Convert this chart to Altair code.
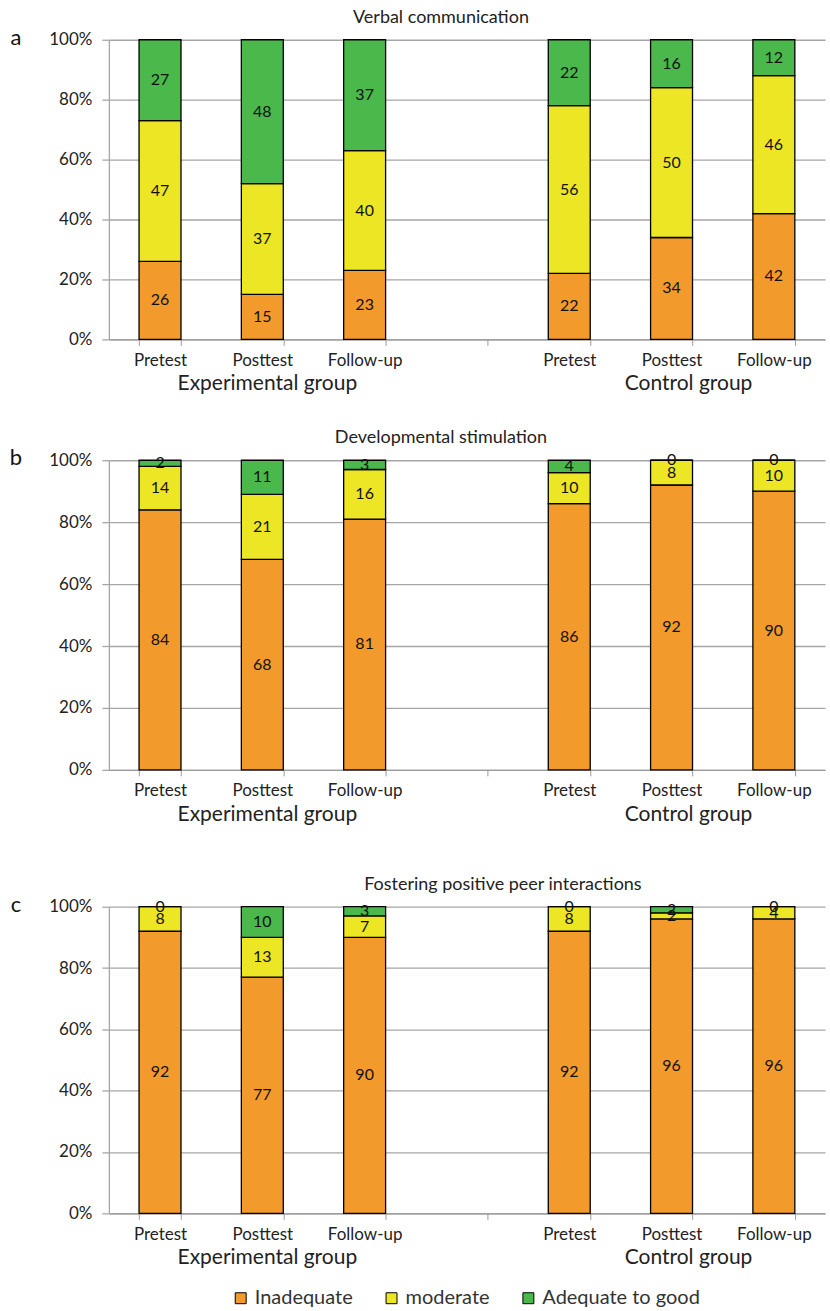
import altair as alt
import pandas as pd

FONT = "Lato"

times = ["Pretest", "Posttest", "Follow-up"]
groups = ["Experimental group", "Control group"]
levels = ["Inadequate", "moderate", "Adequate to good"]
colors = ["#F39A2C", "#ECE624", "#4AB84A"]

panel_titles = ["Verbal communication", "Developmental stimulation",
                "Fostering positive peer interactions"]
panel_letters = ["a", "b", "c"]

# bars: Exp Pretest, Exp Posttest, Exp Follow-up, Ctl Pretest, Ctl Posttest, Ctl Follow-up
inadequate = [
    [26, 15, 23, 22, 34, 42],
    [84, 68, 81, 86, 92, 90],
    [92, 77, 90, 92, 96, 96],
]
moderate = [
    [47, 37, 40, 56, 50, 46],
    [14, 21, 16, 10, 8, 10],
    [8, 13, 7, 8, 2, 4],
]
adequate = [
    [27, 48, 37, 22, 16, 12],
    [2, 11, 3, 4, 0, 0],
    [0, 10, 3, 0, 2, 0],
]

heights = [300, 310, 307]
gaps = [121, 137]
title_dx = [-26, -26, 36]
W = 717

bar_keys = [g + "|" + t for g in groups for t in times]
domain = bar_keys[:3] + ["gap|"] + bar_keys[3:]

x_scale = alt.Scale(domain=domain, paddingInner=0.59, paddingOuter=0.295)
y_scale = alt.Scale(domain=[0, 100])


def panel(i):
    rows = []
    series = [inadequate[i], moderate[i], adequate[i]]
    for j, key in enumerate(bar_keys):
        for r, lvl in enumerate(levels):
            rows.append({"key": key, "level": lvl, "rank": r, "value": series[r][j]})
    df = pd.DataFrame(rows)
    h = heights[i]

    bars = alt.Chart(df).mark_bar(stroke="black", strokeWidth=1.3).encode(
        x=alt.X("key:N", scale=x_scale, title=None,
                axis=alt.Axis(labelExpr="split(datum.value, '|')[1]", labelAngle=0,
                              tickBand="extent", tickSize=6, tickColor="#9a9a9a",
                              domainColor="#9a9a9a", domainWidth=1.3, labelFont=FONT,
                              labelFontSize=17, labelColor="#222", labelPadding=7,
                              grid=False)),
        y=alt.Y("value:Q", stack="zero", scale=y_scale, title=None,
                axis=alt.Axis(values=[0, 20, 40, 60, 80, 100], labelExpr="datum.value + '%'",
                              grid=True, gridColor="#a6a6a6", gridWidth=1.3,
                              tickColor="#a6a6a6", tickSize=7, tickWidth=1.3,
                              domainColor="#a6a6a6", domainWidth=1.3,
                              labelFont=FONT, labelFontSize=17, labelColor="#222",
                              labelPadding=10)),
        color=alt.Color("level:N", scale=alt.Scale(domain=levels, range=colors),
                        legend=alt.Legend(title=None, orient="none", direction="horizontal",
                                          legendX=122, legendY=1250, symbolType="square",
                                          symbolSize=120, symbolStrokeColor="black",
                                          symbolStrokeWidth=1, labelFont=FONT,
                                          labelFontSize=20, labelColor="#333",
                                          columnPadding=28, symbolOffset=0)),
        order=alt.Order("rank:Q", sort="ascending"),
    )

    labels = alt.Chart(df).transform_stack(
        stack="value", groupby=["key"], sort=[alt.SortField("rank", order="ascending")],
        as_=["lo", "hi"]
    ).transform_calculate(mid="(datum.lo + datum.hi) / 2").mark_text(
        font=FONT, fontSize=16, color="#111", baseline="middle"
    ).encode(
        x=alt.X("key:N", scale=x_scale, title=None),
        y=alt.Y("mid:Q", scale=y_scale, title=None),
        text="value:Q",
    )

    grp_layers = []
    for g, dx in zip(groups, [5, 17]):
        gdf = pd.DataFrame({"key": [g + "|Posttest"], "text": [g]})
        grp_layers.append(
            alt.Chart(gdf).mark_text(font=FONT, fontSize=21, color="#222", dx=dx,
                                     baseline="middle").encode(
                x=alt.X("key:N", scale=x_scale, title=None),
                y=alt.value(h + 45),
                text="text:N",
            )
        )

    letter = alt.Chart(pd.DataFrame({"t": [panel_letters[i]]})).mark_text(
        font=FONT, fontSize=22, color="#111", align="center", baseline="middle"
    ).encode(x=alt.value(-93), y=alt.value(-2), text="t:N")

    return alt.layer(bars, labels, *grp_layers, letter).properties(
        width=W, height=h,
        title=alt.TitleParams(panel_titles[i], dx=title_dx[i], offset=0, fontSize=18,
                              font=FONT, fontWeight="normal", color="#222",
                              anchor="middle"),
    )


def spacer(h):
    return alt.Chart(pd.DataFrame({"s": [0]})).mark_point(opacity=0).encode(
        x=alt.value(0), y=alt.value(0)
    ).properties(width=W, height=h)


chart = alt.vconcat(panel(0), spacer(gaps[0]), panel(1), spacer(gaps[1]), panel(2),
                    spacing=0, bounds="flush").properties(
    padding={"left": 9, "top": 8, "right": 5, "bottom": 0},
    background="white",
).configure_view(stroke=None)

chart.save("out.html", embed_options={"renderer": "svg", "actions": False})
